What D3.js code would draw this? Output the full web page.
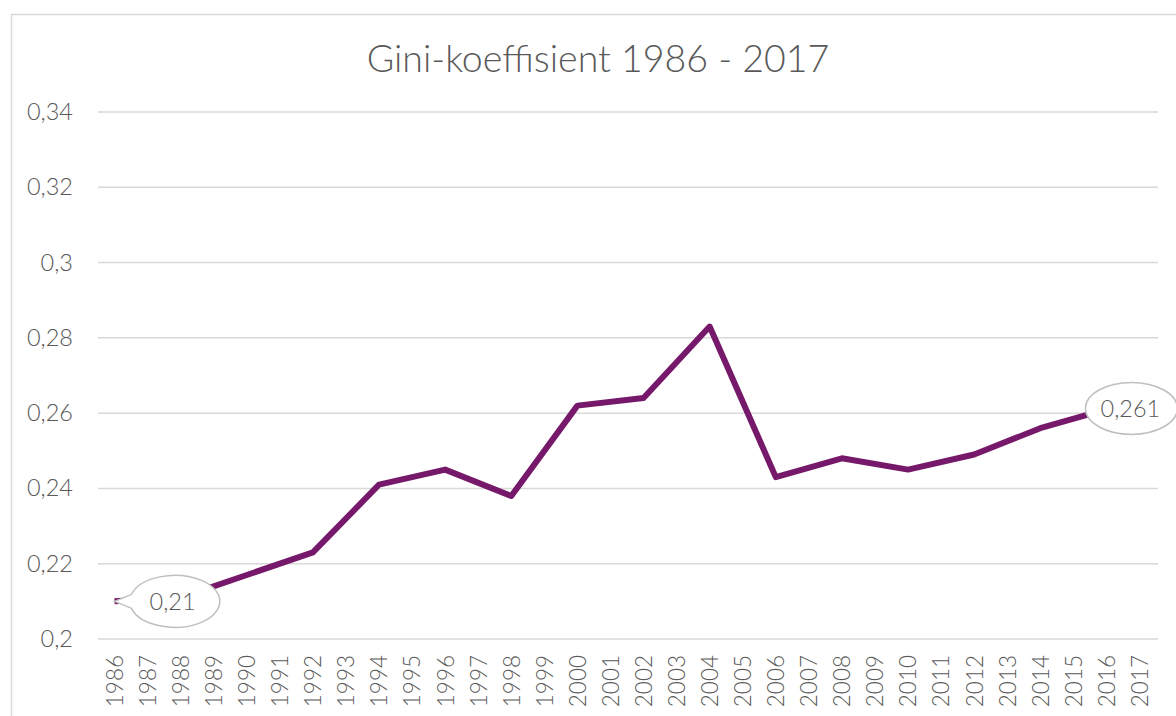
<!DOCTYPE html>
<html>
<head>
<meta charset="utf-8">
<script src="https://cdn.jsdelivr.net/npm/d3@7"></script>
<style>
  body { margin: 0; background: #fff; }
  svg { display: block; font-family: "Lato", "DejaVu Sans", sans-serif; font-weight: 300; }
</style>
</head>
<body>
<svg width="1176" height="716"></svg>
<script>
const width = 1176
const height = 716
const margin = {top: 112, right: 20, bottom: 77, left: 98}

// data, odd years without a value
const years = d3.range(1986, 2018).map(String)
const gini = [0.21, null, 0.211, null, 0.217, null, 0.223, null, 0.241, null, 0.245, null, 0.238, null,
  0.262, null, 0.264, null, 0.283, null, 0.243, null, 0.248, null, 0.245, null, 0.249, null, 0.256, null, 0.261, null]
const yTicks = [0.2, 0.22, 0.24, 0.26, 0.28, 0.3, 0.32, 0.34]
const callouts = ['1986', '2016']

const svg = d3.select('svg')

// ramme rundt diagrammet
svg.append('rect')
  .attr('x', 11.5).attr('y', 14.5)
  .attr('width', 1200).attr('height', 720)
  .attr('fill', 'none').attr('stroke', '#d9d9d9').attr('stroke-width', 1.5)

const x = d3.scalePoint().domain(years).range([margin.left, 1156]).padding(0.5)
const y = d3.scaleLinear().domain([0.2, 0.34]).range([height - margin.bottom, margin.top])

const fmt = d => String(+d.toFixed(3)).replace('.', ',')

// tittel
svg.append('text')
  .attr('x', 598).attr('y', 72)
  .attr('text-anchor', 'middle')
  .attr('font-size', 37.5)
  .attr('fill', '#595959')
  .text('Gini-koeffisient 1986 - 2017')

// rutenett
svg.append('g').selectAll('line').data(yTicks).enter().append('line')
  .attr('x1', margin.left).attr('x2', 1158)
  .attr('y1', d => y(d)).attr('y2', d => y(d))
  .attr('stroke', '#d9d9d9').attr('stroke-width', 1.5)

// y-akse
const yAxis = svg.append('g')
  .attr('transform', `translate(${margin.left - 25},0)`)
  .call(d3.axisLeft(y).tickValues(yTicks).tickFormat(fmt).tickSize(0).tickPadding(0))
yAxis.select('.domain').remove()
yAxis.selectAll('text')
  .attr('font-size', 23.5).attr('fill', '#595959').attr('font-family', 'Lato, sans-serif')

// x-akse
const xAxis = svg.append('g')
  .attr('transform', `translate(0,${height - margin.bottom})`)
  .call(d3.axisBottom(x).tickSize(0))
xAxis.select('.domain').remove()
xAxis.selectAll('text')
  .attr('font-size', 22.5).attr('fill', '#595959').attr('font-family', 'Lato, sans-serif')
  .attr('transform', 'rotate(-90)')
  .attr('text-anchor', 'end')
  .attr('x', -16).attr('y', 0).attr('dy', '0.35em')

// linje
const points = years.map((yr, i) => ({year: yr, value: gini[i]})).filter(d => d.value != null)
const line = d3.line().x(d => x(d.year)).y(d => y(d.value))

svg.append('path')
  .datum(points)
  .attr('d', line)
  .attr('fill', 'none')
  .attr('stroke', '#76196b')
  .attr('stroke-width', 6)
  .attr('stroke-linejoin', 'round')

// dataetiketter
const callData = points.filter(d => callouts.includes(d.year))
const cg = svg.append('g').selectAll('g').data(callData).enter().append('g')
  .attr('transform', d => `translate(${x(d.year)},${y(d.value)})`)

cg.each(function (d, i) {
  const g = d3.select(this)
  if (i === 0) {
    // boble med peker mot punktet
    const rx = 45, ry = 26
    g.append('path')
      .attr('d', `M0,0 Q10,-4 17,-7 A${rx},${ry} 0 1 1 17,7 Q10,4 0,0 Z`)
      .attr('fill', '#fff').attr('stroke', '#bfbfbf').attr('stroke-width', 1.5)
    g.append('text')
      .attr('x', 58).attr('y', 0).attr('dy', '0.35em')
      .attr('text-anchor', 'middle')
      .attr('font-size', 23.5).attr('fill', '#595959')
      .text(fmt(d.value))
  } else {
    g.append('ellipse')
      .attr('cx', 25).attr('cy', -1).attr('rx', 46).attr('ry', 26)
      .attr('fill', '#fff').attr('stroke', '#bfbfbf').attr('stroke-width', 1.5)
    g.append('text')
      .attr('x', 24).attr('y', -1).attr('dy', '0.35em')
      .attr('text-anchor', 'middle')
      .attr('font-size', 23.5).attr('fill', '#595959')
      .text(fmt(d.value))
  }
})
</script>
</body>
</html>
